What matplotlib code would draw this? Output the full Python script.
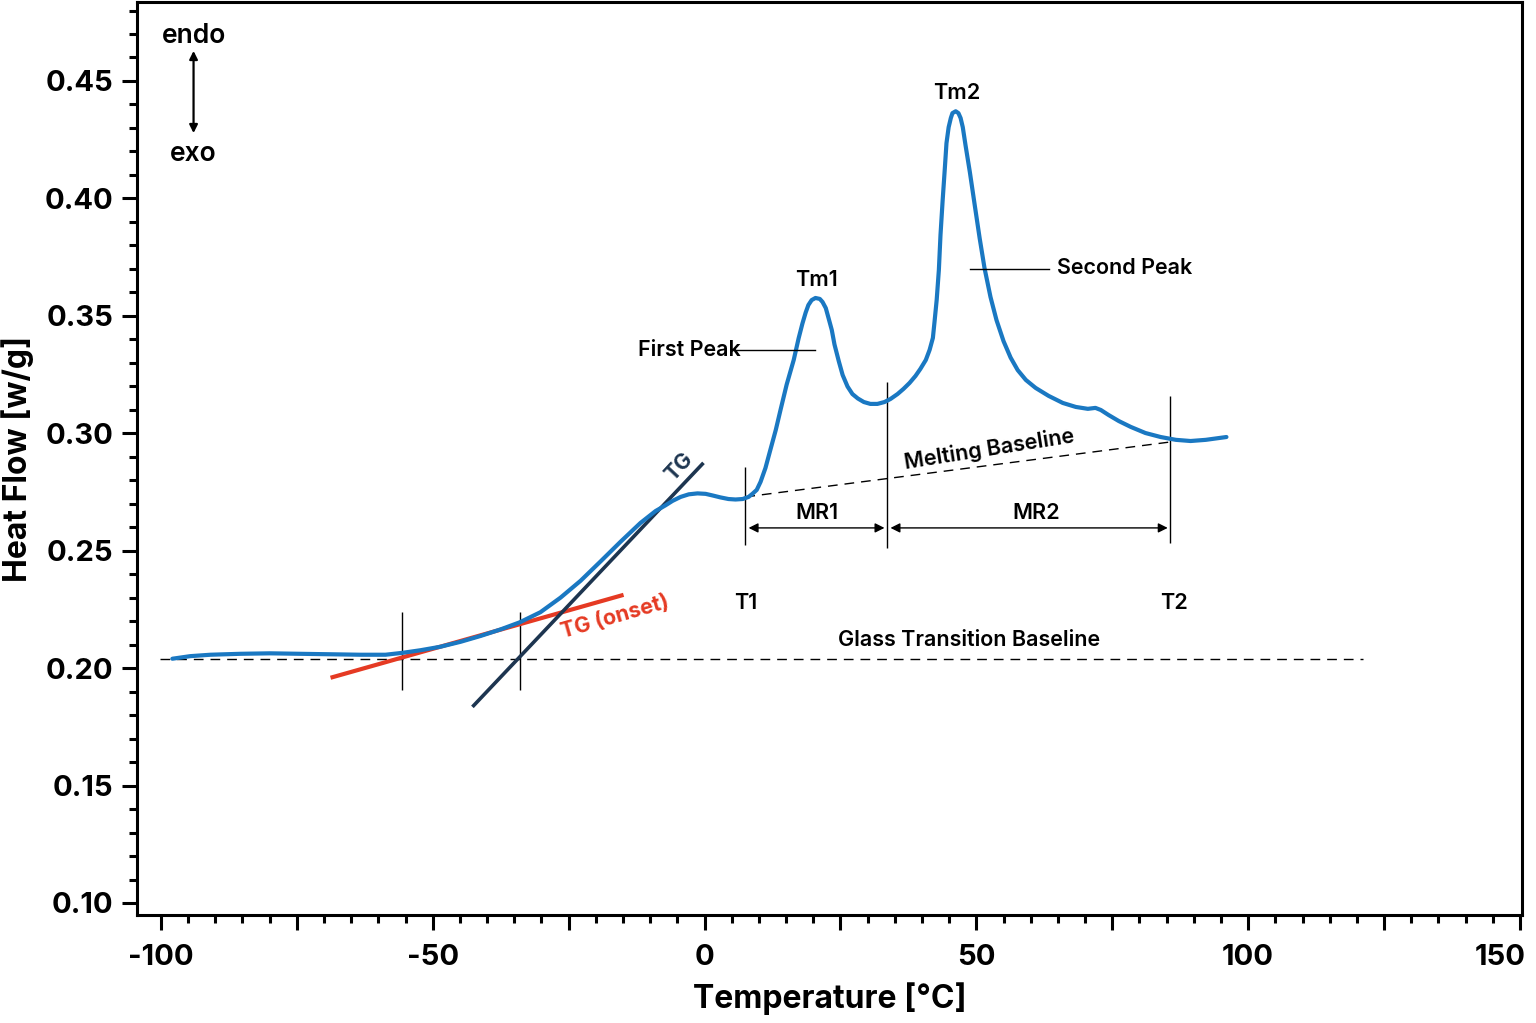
import numpy as np
import matplotlib
matplotlib.use("Agg")
import matplotlib.pyplot as plt
from matplotlib.ticker import MultipleLocator, FuncFormatter
from matplotlib.transforms import ScaledTranslation

plt.rcParams['font.family'] = ['Inter', 'DejaVu Sans']

# DSC curve
temp = [-97.9, -94.6, -90.9, -85.4, -79.9, -74.4, -68.8, -63.3, -58.7, -55.6,
        -52.3, -48.6, -44.9, -41.2, -37.5, -34.0, -30.2, -26.5, -22.8, -19.1,
        -15.5, -11.8, -9.0, -7.2, -5.9, -4.4, -2.9, -1.3, 0.2, 1.5,
        2.9, 4.4, 5.7, 7.0, 8.1, 8.8, 9.6, 10.3, 11.2, 12.1,
        13.1, 14.0, 15.1, 16.4, 17.3, 18.0, 18.6, 19.1, 19.7, 20.4,
        21.2, 21.7, 22.3, 22.8, 23.4, 23.9, 24.7, 25.4, 26.3, 27.2,
        28.2, 29.3, 30.5, 31.8, 33.1, 34.2, 35.5, 36.6, 37.7, 38.8,
        39.7, 40.7, 41.4, 42.0, 42.3, 42.7, 43.1, 43.4, 43.8, 44.2,
        44.5, 44.9, 45.3, 45.6, 46.2, 46.7, 47.1, 47.5, 48.0, 48.8,
        49.7, 50.6, 51.5, 52.6, 53.7, 55.0, 56.3, 57.6, 59.1, 60.9,
        63.3, 65.9, 68.3, 70.5, 71.9, 72.9, 74.3, 76.2, 78.4, 81.1,
        83.9, 86.7, 89.4, 92.2, 96.0]
heat = [0.2040, 0.2051, 0.2057, 0.2061, 0.2063, 0.2061, 0.2059, 0.2057, 0.2057, 0.2065,
        0.2076, 0.2091, 0.2112, 0.2137, 0.2165, 0.2195, 0.2238, 0.2300, 0.2372, 0.2455,
        0.2537, 0.2618, 0.2669, 0.2693, 0.2712, 0.2729, 0.2740, 0.2744, 0.2742, 0.2735,
        0.2727, 0.2720, 0.2718, 0.2720, 0.2729, 0.2742, 0.2759, 0.2793, 0.2852, 0.2929,
        0.3014, 0.3102, 0.3207, 0.3312, 0.3404, 0.3467, 0.3514, 0.3546, 0.3567, 0.3576,
        0.3572, 0.3559, 0.3533, 0.3491, 0.3440, 0.3378, 0.3306, 0.3248, 0.3199, 0.3167,
        0.3148, 0.3133, 0.3125, 0.3125, 0.3133, 0.3146, 0.3167, 0.3189, 0.3214, 0.3244,
        0.3274, 0.3312, 0.3355, 0.3406, 0.3474, 0.3568, 0.3695, 0.3844, 0.3993, 0.4129,
        0.4235, 0.4303, 0.4342, 0.4363, 0.4371, 0.4363, 0.4342, 0.4303, 0.4227, 0.4112,
        0.3971, 0.3831, 0.3703, 0.3580, 0.3482, 0.3392, 0.3322, 0.3269, 0.3227, 0.3193,
        0.3159, 0.3129, 0.3112, 0.3104, 0.3108, 0.3099, 0.3078, 0.3052, 0.3027, 0.3001,
        0.2984, 0.2972, 0.2967, 0.2972, 0.2984]

# construction lines
glass_base_x = [-100.1, 121.1]
glass_base_y = [0.2040, 0.2040]
onset_x = [-68.8, -14.9]
onset_y = [0.1959, 0.2312]
tg_x = [-42.7, -0.2]
tg_y = [0.1835, 0.2874]
melt_base_x = [7.5, 85.7]
melt_base_y = [0.2729, 0.2963]
vlines_x = [-55.6, -34.0, 7.5, 33.5, 85.7]
vlines_lo = [0.1908, 0.1908, 0.2525, 0.2512, 0.2533]
vlines_hi = [0.2240, 0.2240, 0.2857, 0.3218, 0.3159]

BLUE = '#1a78c2'
RED = '#e53a23'
NAVY = '#1d3550'
FS = 15.5

fig = plt.figure(figsize=(15.36, 10.23), dpi=100)
ax = fig.add_axes([0.0892, 0.1056, 0.9018, 0.8924])

ax.plot(glass_base_x, glass_base_y, color='black', lw=1.0, ls=(0, (7, 5)))
ax.plot(melt_base_x, melt_base_y, color='black', lw=1.0, ls=(0, (7, 5)))
ax.vlines(vlines_x, vlines_lo, vlines_hi, color='black', lw=1.0)
ax.plot(onset_x, onset_y, color=RED, lw=3.0, solid_capstyle='butt')
ax.plot(tg_x, tg_y, color=NAVY, lw=2.6, solid_capstyle='butt')
ax.plot(temp, heat, color=BLUE, lw=3.0, solid_joinstyle='round', solid_capstyle='round')

# range arrows
arr = dict(arrowstyle='<|-|>', color='black', lw=1.0, mutation_scale=14,
           shrinkA=0, shrinkB=0)
ax.annotate('', xy=(8.1, 0.2597), xytext=(33.1, 0.2597), arrowprops=arr)
ax.annotate('', xy=(34.2, 0.2597), xytext=(85.2, 0.2597), arrowprops=arr)
ax.text(20.6, 0.2620, 'MR1', ha='center', va='bottom', fontsize=FS, fontweight='semibold')
ax.text(61.0, 0.2620, 'MR2', ha='center', va='bottom', fontsize=FS, fontweight='semibold')

# peak labels
ax.plot([5.7, 20.4], [0.3355, 0.3355], color='black', lw=1.0)
ax.text(-12.3, 0.3355, 'First Peak', ha='left', va='center', fontsize=FS, fontweight='semibold')
ax.plot([48.9, 63.3], [0.3700, 0.3700], color='black', lw=1.0)
ax.text(64.9, 0.3704, 'Second Peak', ha='left', va='center', fontsize=FS, fontweight='semibold')
ax.text(20.6, 0.3653, 'Tm1', ha='center', va='center', fontsize=FS, fontweight='semibold')
ax.text(46.4, 0.4449, 'Tm2', ha='center', va='center', fontsize=FS, fontweight='semibold')
ax.text(7.5, 0.2278, 'T1', ha='center', va='center', fontsize=FS, fontweight='semibold')
ax.text(86.3, 0.2278, 'T2', ha='center', va='center', fontsize=FS, fontweight='semibold')
ax.text(48.6, 0.2120, 'Glass Transition Baseline', ha='center', va='center',
        fontsize=FS, fontweight='semibold')
ax.text(52.3, 0.2932, 'Melting Baseline', ha='center', va='center', rotation=9,
        fontsize=FS, fontweight='semibold')
ax.text(-4.6, 0.2858, 'TG', ha='center', va='center', rotation=47, color=NAVY,
        fontsize=FS, fontweight='bold')
ax.text(-16.4, 0.2218, 'TG (onset)', ha='center', va='center', rotation=16, color=RED,
        fontsize=FS, fontweight='bold')

# endo / exo
ax.text(-94.0, 0.4690, 'endo', ha='center', va='center', fontsize=19, fontweight='semibold')
ax.text(-94.0, 0.4188, 'exo', ha='center', va='center', fontsize=19, fontweight='semibold')
ax.annotate('', xy=(-94.0, 0.4628), xytext=(-94.0, 0.4278),
            arrowprops=dict(arrowstyle='<|-|>', color='black', lw=1.6,
                            mutation_scale=12, shrinkA=0, shrinkB=0))

ax.set_xlim(-104.4, 150.4)
ax.set_ylim(0.0949, 0.4836)

ax.xaxis.set_major_locator(MultipleLocator(25))
ax.xaxis.set_minor_locator(MultipleLocator(5))
ax.xaxis.set_major_formatter(FuncFormatter(lambda v, p: f'{v:.0f}' if round(v) % 50 == 0 else ''))
ax.yaxis.set_major_locator(MultipleLocator(0.05))
ax.yaxis.set_minor_locator(MultipleLocator(0.01))
ax.yaxis.set_major_formatter(FuncFormatter(lambda v, p: f'{v:.2f}'))

for s in ax.spines.values():
    s.set_linewidth(2.2)
ax.tick_params(which='major', length=11, width=2.2, labelsize=21)
ax.tick_params(axis='x', which='major', pad=10)
ax.tick_params(axis='y', which='major', pad=6)
ax.tick_params(which='minor', length=6, width=2.2)

ax.set_xlabel('Temperature [°C]', fontsize=23, fontweight='bold', labelpad=8)
ax.set_ylabel('Heat Flow [w/g]', fontsize=23, fontweight='bold', labelpad=8)

fig.canvas.draw()
for lab in ax.get_xticklabels() + ax.get_yticklabels():
    lab.set_fontweight('bold')
# last x label sits against the figure edge, nudge it left
for tick in ax.xaxis.get_major_ticks():
    if tick.label1.get_text() == '150':
        tick.label1.set_transform(tick.label1.get_transform()
                                  + ScaledTranslation(-14 / 72, 0, fig.dpi_scale_trans))

fig.savefig('out.png', dpi=100)
